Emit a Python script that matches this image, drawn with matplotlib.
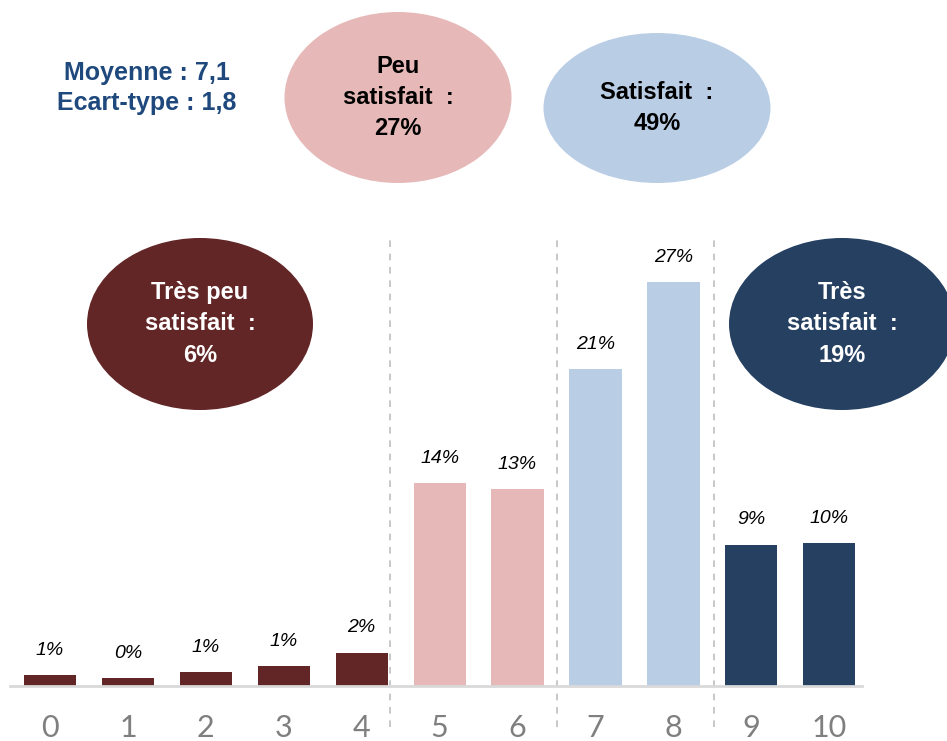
import matplotlib.pyplot as plt
from matplotlib.patches import Ellipse

# data
scores = ['0', '1', '2', '3', '4', '5', '6', '7', '8', '9', '10']
values = [0.7, 0.5, 0.9, 1.3, 2.2, 13.5, 13.1, 21.1, 26.9, 9.4, 9.5]
labels = ['1%', '0%', '1%', '1%', '2%', '14%', '13%', '21%', '27%', '9%', '10%']
groups = ['Très peu\nsatisfait  :\n6%', 'Peu\nsatisfait  :\n27%',
          'Satisfait  :\n49%', 'Très\nsatisfait  :\n19%']
stats_text = 'Moyenne : 7,1\nEcart-type : 1,8'

dark_red = '#622627'
pink = '#E6B9B8'
light_blue = '#B9CDE5'
navy = '#254061'
bar_colors = [dark_red] * 5 + [pink] * 2 + [light_blue] * 2 + [navy] * 2

fig = plt.figure(figsize=(9.47, 7.41), dpi=100)
ax = fig.add_axes([10 / 947, 1 - 686 / 741, 852 / 947, 446 / 741])

x = list(range(len(scores)))
bars = ax.bar(x, values, width=0.67, color=bar_colors)
for xi, v, lab in zip(x, values, labels):
    ax.text(xi, v + 1.1, lab, ha='center', va='bottom', fontsize=14,
            style='italic', family='Liberation Sans', color='black')

ax.set_xlim(-0.513, 10.42)
ax.set_ylim(0, 29.7)
ax.set_xticks(x)
ax.set_xticklabels(scores, fontsize=22, color='#7F7F7F',
                   family='Lato', fontweight='normal')
ax.tick_params(axis='x', length=0, pad=20)
ax.set_yticks([])
for s in ['top', 'left', 'right']:
    ax.spines[s].set_visible(False)
ax.spines['bottom'].set_color('#D9D9D9')
ax.spines['bottom'].set_linewidth(2)

# group separators
for xs in [4.36, 6.5, 8.52]:
    ax.plot([xs, xs], [-2.7, 29.7], ls=(0, (4, 4)), color='#BFBFBF',
            lw=1.2, clip_on=False)

# overlay for bubbles, in pixel units
ov = fig.add_axes([0, 0, 1, 1], zorder=3)
ov.set_xlim(0, 947)
ov.set_ylim(741, 0)
ov.axis('off')
ov.patch.set_alpha(0)

bubbles = [((200, 324), 226, 172, dark_red, 'white'),
           ((398, 97.5), 227, 171, pink, 'black'),
           ((657, 108), 227, 150, light_blue, 'black'),
           ((842, 324), 226, 172, navy, 'white')]
for (center, w, h, fc, tc), txt in zip(bubbles, groups):
    ov.add_patch(Ellipse(center, w, h, facecolor=fc, edgecolor='none'))
    ov.text(center[0], center[1], txt, ha='center', va='center',
            fontsize=17, fontweight='bold', color=tc,
            family='Liberation Sans', linespacing=1.46)

ov.text(147, 88, stats_text, ha='center', va='center', fontsize=18,
        fontweight='bold', color='#1F497D', family='Liberation Sans',
        linespacing=1.31)

fig.savefig('out.png', dpi=100)
